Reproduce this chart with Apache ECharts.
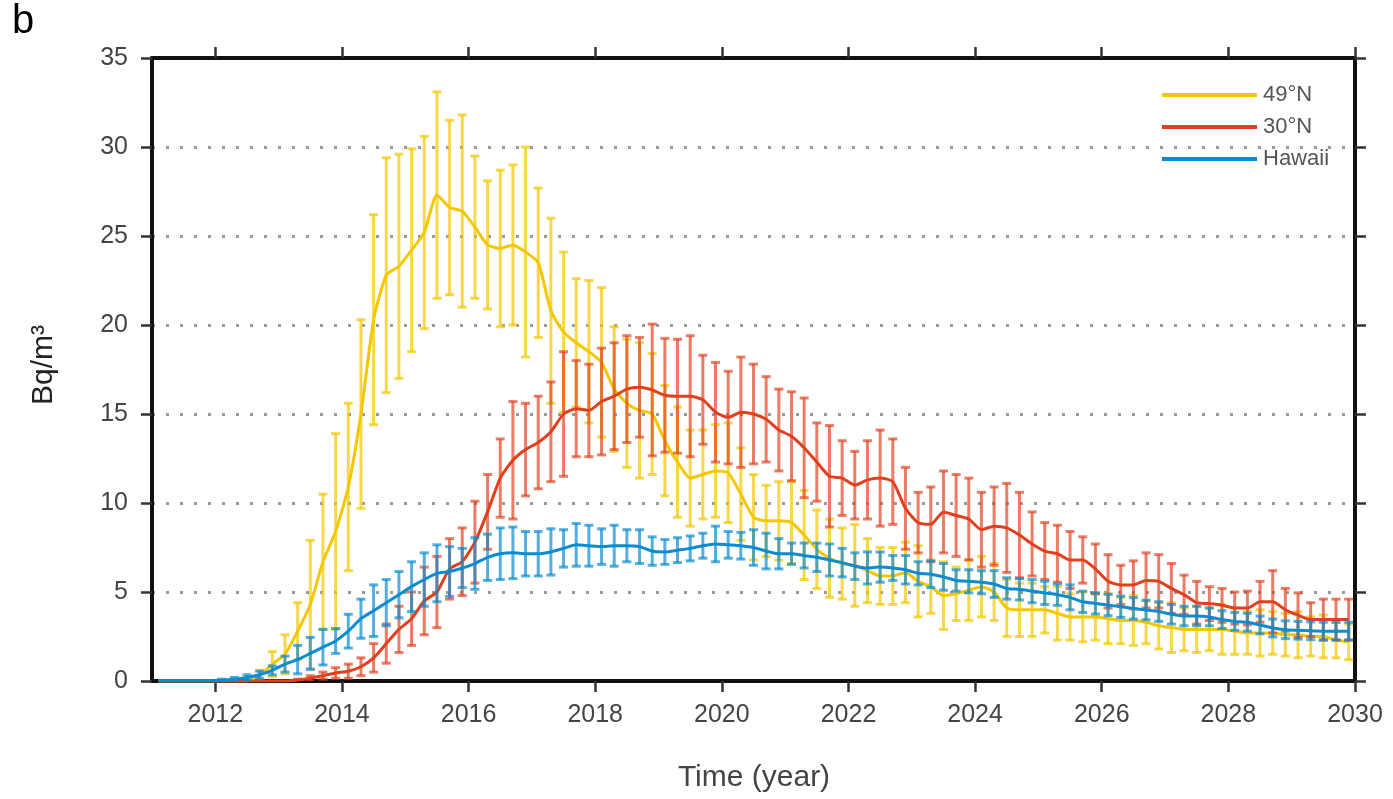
<!DOCTYPE html>
<html>
<head>
<meta charset="utf-8">
<script src="https://cdn.jsdelivr.net/npm/echarts@6/dist/echarts.min.js"></script>
<style>html,body{margin:0;padding:0;background:#fff;}#c{width:1393px;height:799px;}</style>
</head>
<body>
<div id="c"></div>
<script>
// Sampling times (year)
const years = [
2011.1,2011.3,2011.5,2011.7,2011.9,2012.1,2012.3,2012.5,2012.7,2012.9,
2013.1,2013.3,2013.5,2013.7,2013.9,2014.1,2014.3,2014.5,2014.7,2014.9,
2015.1,2015.3,2015.5,2015.7,2015.9,2016.1,2016.3,2016.5,2016.7,2016.9,
2017.1,2017.3,2017.5,2017.7,2017.9,2018.1,2018.3,2018.5,2018.7,2018.9,
2019.1,2019.3,2019.5,2019.7,2019.9,2020.1,2020.3,2020.5,2020.7,2020.9,
2021.1,2021.3,2021.5,2021.7,2021.9,2022.1,2022.3,2022.5,2022.7,2022.9,
2023.1,2023.3,2023.5,2023.7,2023.9,2024.1,2024.3,2024.5,2024.7,2024.9,
2025.1,2025.3,2025.5,2025.7,2025.9,2026.1,2026.3,2026.5,2026.7,2026.9,
2027.1,2027.3,2027.5,2027.7,2027.9,2028.1,2028.3,2028.5,2028.7,2028.9,
2029.1,2029.3,2029.5,2029.7,2029.9];

// 49°N
const n49 = [
0,0,0,0,0,0,0,0,0.3,0.95,
1.5,2.8,4.3,6.7,8.4,10.9,15.0,20.3,22.8,23.3,
24.2,25.2,27.3,26.6,26.4,25.5,24.5,24.3,24.5,24.1,
23.5,20.8,19.6,19.0,18.5,17.9,16.4,15.6,15.2,15.0,
13.5,12.3,11.4,11.6,11.8,11.7,10.5,9.2,9.0,9.0,
8.9,8.2,7.4,6.9,6.6,6.5,6.2,5.9,5.9,6.1,
5.6,5.3,4.8,4.9,5.1,5.3,5.0,4.1,4.0,4.0,
4.0,3.8,3.6,3.6,3.6,3.5,3.4,3.4,3.3,3.1,
3.0,2.9,2.9,2.9,2.9,2.8,2.7,2.7,2.7,2.6,
2.6,2.5,2.5,2.3,2.2];
const n49Err = [
0,0,0,0,0,0,0,0,0.3,0.7,
1.1,1.6,3.6,3.8,5.5,4.7,5.3,5.9,6.6,6.3,
5.7,5.4,5.8,4.9,5.4,4.0,3.6,4.4,4.5,5.9,
4.2,5.2,4.5,3.6,4.0,4.2,3.5,3.6,3.8,3.4,
3.1,3.1,2.7,2.5,2.6,2.8,2.6,2.4,2.0,2.2,
2.3,2.5,2.2,2.2,2.0,2.3,1.8,1.6,1.6,1.7,
2.0,1.5,1.9,1.5,1.7,1.7,1.6,1.6,1.5,1.5,
1.3,1.5,1.3,1.4,1.3,1.4,1.3,1.4,1.2,1.3,
1.4,1.2,1.3,1.2,1.4,1.3,1.2,1.3,1.2,1.2,
1.3,1.1,1.2,1.0,1.0];

// 30°N
const n30 = [
0,0,0,0,0,0,0,0,0,0,
0,0.05,0.15,0.3,0.45,0.55,0.8,1.3,2.1,2.9,
3.5,4.5,5.0,6.3,6.7,7.8,9.5,11.4,12.4,13.0,
13.4,14.0,15.0,15.3,15.2,15.7,16.0,16.4,16.5,16.35,
16.05,16.0,16.0,15.8,15.1,14.8,15.1,15.0,14.7,14.1,
13.75,13.1,12.3,11.5,11.4,11.0,11.3,11.4,11.2,9.7,
8.9,8.8,9.5,9.3,9.1,8.5,8.7,8.6,8.2,7.7,
7.3,7.15,6.8,6.8,6.3,5.6,5.4,5.4,5.65,5.6,
5.2,4.85,4.4,4.35,4.25,4.1,4.1,4.45,4.45,4.0,
3.7,3.45,3.45,3.45,3.45];
const n30Err = [
0,0,0,0,0,0,0,0,0,0,
0,0.05,0.15,0.2,0.3,0.4,0.5,0.8,1.1,1.3,
1.5,1.9,2.0,1.7,1.9,2.3,2.1,2.2,3.3,2.6,
2.6,2.8,3.5,2.7,2.6,3.0,3.0,3.0,2.8,3.7,
3.2,3.2,3.4,2.5,2.8,2.6,3.1,2.8,2.4,2.3,
2.5,2.8,2.2,2.85,2.1,1.9,2.2,2.7,2.4,2.3,
1.7,2.1,2.3,2.3,2.3,2.1,2.2,2.5,2.4,1.8,
1.6,1.6,1.6,1.3,1.4,1.5,1.1,1.35,1.55,1.5,
1.4,1.1,1.2,0.95,0.95,0.9,0.95,1.15,1.75,1.2,
1.25,0.95,1.15,1.15,1.15];

// Hawaii
const hawaii = [
0,0,0,0,0,0.05,0.1,0.2,0.35,0.6,
0.95,1.2,1.55,1.9,2.25,2.8,3.5,3.95,4.4,4.85,
5.3,5.7,6.05,6.15,6.35,6.6,6.95,7.15,7.2,7.15,
7.15,7.25,7.45,7.65,7.6,7.55,7.6,7.6,7.55,7.3,
7.25,7.35,7.45,7.6,7.7,7.65,7.6,7.5,7.3,7.15,
7.15,7.05,6.95,6.8,6.65,6.45,6.35,6.4,6.35,6.25,
6.05,6.0,5.85,5.65,5.6,5.55,5.45,5.2,5.15,5.05,
4.95,4.85,4.7,4.45,4.36,4.27,4.17,4.08,3.99,3.9,
3.75,3.65,3.65,3.6,3.45,3.35,3.3,3.15,2.98,2.88,
2.85,2.82,2.8,2.8,2.8];
const hawaiiErr = [
0,0,0,0,0,0.05,0.1,0.15,0.2,0.25,
0.45,0.8,0.9,1.0,0.7,0.95,1.1,1.45,1.3,1.3,
1.4,1.5,1.6,1.4,1.1,1.45,1.3,1.45,1.45,1.25,
1.25,1.3,1.05,1.2,1.15,1.0,1.15,0.9,0.95,0.8,
0.7,0.7,0.7,0.7,1.0,0.75,0.75,1.0,1.0,0.85,
0.6,0.7,0.8,0.9,0.8,0.75,0.9,0.85,0.7,0.8,
0.65,0.75,0.75,0.6,0.65,0.65,0.75,0.6,0.6,0.65,
0.65,0.6,0.7,0.6,0.6,0.6,0.6,0.6,0.55,0.55,
0.55,0.55,0.55,0.5,0.5,0.5,0.5,0.5,0.5,0.5,
0.5,0.5,0.5,0.5,0.5];

const seriesNames = ['49°N', '30°N', 'Hawaii'];
const xTickValues = [2012,2014,2016,2018,2020,2022,2024,2026,2028,2030];

const lineColors = ['#F4C700', '#E1401E', '#0B8BD0'];
const barColors = ['rgba(244,199,0,0.7)', 'rgba(225,64,30,0.68)', 'rgba(11,139,208,0.7)'];

const FONT = 'Liberation Sans, Arial, sans-serif';

function errRender(color) {
  return function (params, api) {
    const x = api.value(0), lo = api.value(1), hi = api.value(2);
    if (hi - lo <= 0.001) return null;
    const a = api.coord([x, lo]), b = api.coord([x, hi]);
    const w = 4.5;
    const st = { stroke: color, lineWidth: 3 };
    return {
      type: 'group',
      children: [
        { type: 'line', shape: { x1: a[0], y1: a[1], x2: b[0], y2: b[1] }, style: st },
        { type: 'line', shape: { x1: a[0] - w, y1: a[1], x2: a[0] + w, y2: a[1] }, style: st },
        { type: 'line', shape: { x1: b[0] - w, y1: b[1], x2: b[0] + w, y2: b[1] }, style: st }
      ]
    };
  };
}

const means = [n49, n30, hawaii];
const errs = [n49Err, n30Err, hawaiiErr];
const series = [];
for (let s = 0; s < 3; s++) {
  const m = means[s], e = errs[s];
  series.push({
    type: 'custom',
    name: 'err' + s,
    renderItem: errRender(barColors[s]),
    data: years.map((t, i) => [t, Math.max(0, m[i] - e[i]), m[i] + e[i]]),
    encode: { x: 0, y: [1, 2] },
    clip: true,
    z: 2 + s * 2,
    silent: true
  });
  series.push({
    type: 'line',
    name: seriesNames[s],
    data: years.map((t, i) => [t, m[i]]),
    showSymbol: false,
    symbol: 'none',
    smooth: 0.2,
    lineStyle: { color: lineColors[s], width: 3 },
    itemStyle: { color: lineColors[s] },
    z: 3 + s * 2,
    clip: true
  });
}

const axisLineStyle = { color: '#111', width: 4 };
const tickStyle = { color: '#333', width: 2.5 };

const chart = echarts.init(document.getElementById('c'), null, { renderer: 'canvas' });
chart.setOption({
  animation: false,
  backgroundColor: '#fff',
  grid: { left: 152, right: 38, top: 58, bottom: 118, containLabel: false },
  legend: {
    orient: 'vertical',
    left: 1157,
    top: 78,
    itemWidth: 95,
    itemHeight: 4,
    itemGap: 8,
    data: seriesNames.map(n => ({ name: n, icon: 'rect' })),
    textStyle: { fontFamily: FONT, fontSize: 22, color: '#555', lineHeight: 24, padding: [0, 0, 0, 1] },
    selectedMode: false
  },
  xAxis: [
    {
      type: 'value', position: 'bottom', min: 2011, max: 2030,
      axisLine: { show: true, onZero: false, lineStyle: axisLineStyle },
      axisTick: { show: true, inside: false, length: 11, lineStyle: tickStyle, customValues: xTickValues },
      axisLabel: { show: true, customValues: xTickValues, formatter: v => String(v), fontFamily: FONT, fontSize: 25, color: '#444', margin: 22 },
      splitLine: { show: false }
    },
    {
      type: 'value', position: 'top', min: 2011, max: 2030,
      axisLine: { show: true, onZero: false, lineStyle: axisLineStyle },
      axisTick: { show: true, inside: false, length: 11, lineStyle: tickStyle, customValues: xTickValues },
      axisLabel: { show: false },
      splitLine: { show: false }
    }
  ],
  yAxis: [
    {
      type: 'value', position: 'left', min: 0, max: 35, interval: 5,
      axisLine: { show: true, onZero: false, lineStyle: axisLineStyle },
      axisTick: { show: true, inside: false, length: 11, lineStyle: tickStyle },
      axisLabel: { show: true, fontFamily: FONT, fontSize: 25, color: '#444', margin: 24 },
      splitLine: { show: true, lineStyle: { type: [3, 11], color: '#9a9a9a', width: 3 } }
    },
    {
      type: 'value', position: 'right', min: 0, max: 35, interval: 5,
      axisLine: { show: true, onZero: false, lineStyle: axisLineStyle },
      axisTick: { show: true, inside: false, length: 11, lineStyle: tickStyle },
      axisLabel: { show: false },
      splitLine: { show: false }
    }
  ],
  graphic: [
    { type: 'text', left: 12, top: 2, style: { text: 'b', font: '40px ' + FONT, fill: '#000' } },
    { type: 'text', x: 754, y: 778, style: { text: 'Time (year)', font: '30px ' + FONT, fill: '#444', textAlign: 'center', textVerticalAlign: 'middle' } },
    { type: 'text', x: 44, y: 365, rotation: Math.PI / 2, style: { text: 'Bq/m³', font: '30px ' + FONT, fill: '#222', textAlign: 'center', textVerticalAlign: 'middle' } }
  ],
  series: series
});
</script>
</body>
</html>
